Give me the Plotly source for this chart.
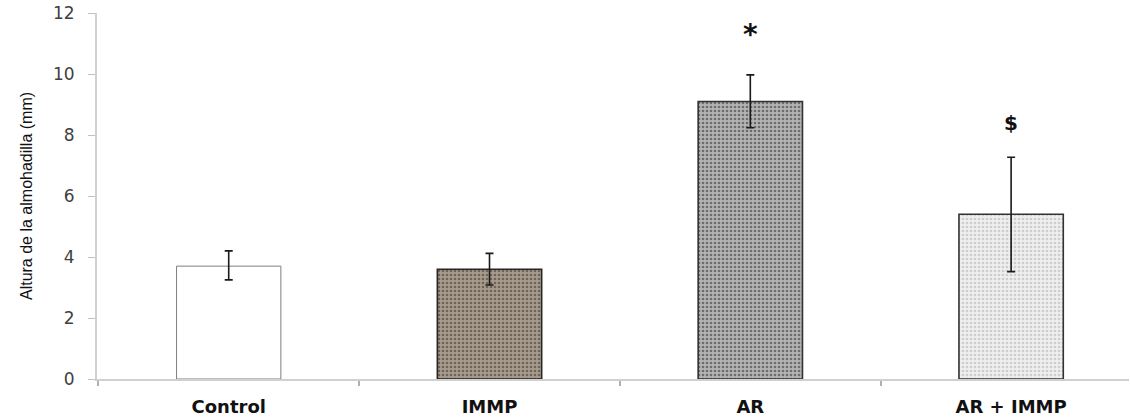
import plotly.graph_objects as go

categories = ["Control", "IMMP", "AR", "AR + IMMP"]
means = [3.7, 3.6, 9.1, 5.4]
err_plus = [0.5, 0.52, 0.87, 1.87]
err_minus = [0.45, 0.52, 0.86, 1.88]
markers = ["", "", "*", "$"]
marker_y = [None, None, 11.3, 8.4]
marker_size = [0, 0, 28, 20]

fill_bg = ["#ffffff", "#a89c8e", "#b4b4b4", "#efefef"]
fill_fg = ["#ffffff", "#6f6357", "#6c6c6c", "#cdcdcd"]
outline = ["#7f7f7f", "#262626", "#333333", "#333333"]
outline_w = [1, 1.6, 1.6, 1.6]

fig = go.Figure()
for i, c in enumerate(categories):
    fig.add_trace(go.Bar(
        x=[c], y=[means[i]], width=0.40,
        marker=dict(
            color=fill_bg[i],
            line=dict(color=outline[i], width=outline_w[i]),
            pattern=dict(shape="" if i == 0 else ".", bgcolor=fill_bg[i],
                         fgcolor=fill_fg[i], size=4, solidity=0.35,
                         fillmode="replace"),
        ),
        error_y=dict(type="data", symmetric=False, array=[err_plus[i]],
                     arrayminus=[err_minus[i]], color="#1a1a1a",
                     thickness=1.6, width=4),
        showlegend=False,
    ))

for i, c in enumerate(categories):
    if markers[i]:
        fig.add_annotation(x=c, y=marker_y[i], xref="x", yref="y",
                           text="<b>%s</b>" % markers[i], showarrow=False,
                           font=dict(family="DejaVu Sans", size=marker_size[i], color="#111111"))

fig.update_layout(
    width=1130, height=418,
    margin=dict(l=97, r=1, t=13, b=39),
    plot_bgcolor="white", paper_bgcolor="white",
    bargap=0.6,
)
fig.update_xaxes(
    range=[-0.505, 3.452],
    showline=True, linecolor="#d0d0d0", linewidth=2,
    ticks="outside", tickson="boundaries", ticklen=5, tickcolor="#b0b0b0", tickwidth=2,
    showgrid=False, zeroline=False,
    ticklabelstandoff=10,
    tickfont=dict(family="DejaVu Sans", size=18, color="#111111"),
    tickvals=categories,
    ticktext=["<b>%s</b>" % c for c in categories],
)
fig.update_yaxes(
    range=[0, 12], tickvals=[0, 2, 4, 6, 8, 10, 12],
    showline=True, linecolor="#d0d0d0", linewidth=2,
    ticks="outside", ticklen=7, tickcolor="#c0c0c0", tickwidth=1,
    showgrid=False, zeroline=False,
    ticklabelstandoff=10,
    tickfont=dict(family="DejaVu Sans", size=17, color="#404040"),
    title=dict(text="Altura de la almohadilla (mm)",
               font=dict(family="Liberation Sans Narrow, Arial Narrow, Liberation Sans, sans-serif",
                         size=16, color="#111111"),
               standoff=16),
)

fig.write_html("out.html")
